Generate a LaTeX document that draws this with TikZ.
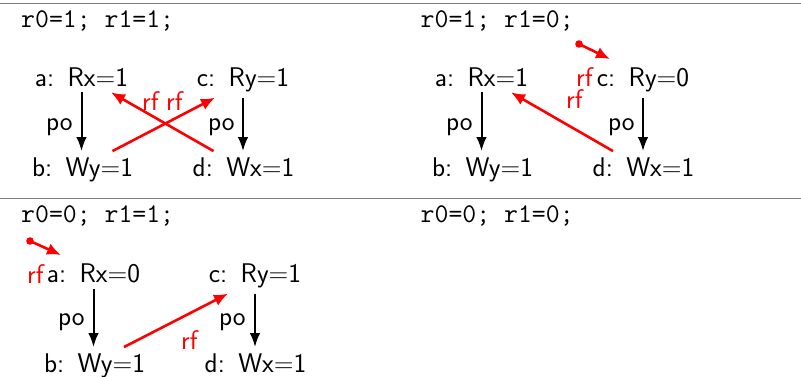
\documentclass[tikz,border=0pt]{standalone}
\usepackage{fontspec}
\usetikzlibrary{arrows.meta,calc}
\begin{document}
\begin{tikzpicture}[x=1pt,y=-1pt,
  ev/.style={font=\sffamily\fontsize{27}{32}\selectfont, inner sep=6pt, anchor=base},
  lbl/.style={font=\sffamily\fontsize{27}{32}\selectfont, inner sep=0pt, anchor=base west},
  rflbl/.style={lbl, text=red},
  hdr/.style={font=\ttfamily\fontsize{27}{32}\selectfont, inner sep=0pt, anchor=base west},
  poarrow/.style={draw=black, line width=2pt, -{Latex[length=14pt,width=10.5pt]}},
  rfarrow/.style={draw=red, line width=2.6pt, -{Latex[length=14pt,width=12pt]}},
  initdot/.style={fill=red, draw=none},
  rulestyle/.style={draw=gray, line width=1.5pt}]
\useasboundingbox (0,0) rectangle (801,376);
\draw[rulestyle] (0,3.5) -- (801,3.5);
\draw[rulestyle] (0,198.5) -- (801,198.5);

% ---- panel 1
\node[hdr] (h1) at (21,27) {r0=1; r1=1;};
\node[ev] (p1a) at (81.5,86) {a:\hspace{0.08em} Rx=1};
\node[ev] (p1c) at (243,86) {c:\hspace{0.08em} Ry=1};
\node[ev] (p1b) at (82.5,176) {b:\hspace{0.08em} Wy=1};
\node[ev] (p1d) at (243.5,176) {d:\hspace{0.08em} Wx=1};
\draw[poarrow] (p1a.south) -- (p1a.south |- p1b.north);
\draw[poarrow] (p1c.south) -- (p1c.south |- p1d.north);
\node[lbl] (p1po1) at (46,130) {po};
\node[lbl] (p1po2) at (208,130) {po};
\draw[rfarrow] ([xshift=30pt]p1b.north) -- ([xshift=-28pt]p1c.south);
\draw[rfarrow] ([xshift=-30pt]p1d.north) -- ([xshift=29.5pt]p1a.south);
\node[rflbl] (p1rf1) at (142,110) {rf};
\node[rflbl] (p1rf2) at (166,110) {rf};

% ---- panel 2
\node[hdr] (h2) at (420.5,27) {r0=1; r1=0;};
\node[ev] (p2a) at (481.5,86) {a:\hspace{0.08em} Rx=1};
\node[ev] (p2c) at (643,86) {c:\hspace{0.08em} Ry=0};
\node[ev] (p2b) at (482.5,176) {b:\hspace{0.08em} Wy=1};
\node[ev] (p2d) at (643.5,176) {d:\hspace{0.08em} Wx=1};
\draw[poarrow] (p2a.south) -- (p2a.south |- p2b.north);
\draw[poarrow] (p2c.south) -- (p2c.south |- p2d.north);
\node[lbl] (p2po1) at (446,130) {po};
\node[lbl] (p2po2) at (608,130) {po};
\draw[rfarrow] ([xshift=-30.5pt]p2d.north) -- ([xshift=29.5pt]p2a.south);
\node[rflbl] (p2rf1) at (566,108) {rf};
\coordinate (p2i) at (579,44);
\fill[initdot] (p2i) circle (3.8pt);
\draw[rfarrow] (p2i) -- (610,59);
\node[rflbl] (p2rf0) at (576,86) {rf};

% ---- panel 3
\node[hdr] (h3) at (21,222) {r0=0; r1=1;};
\node[ev] (p3a) at (93.5,282) {a:\hspace{0.08em} Rx=0};
\node[ev] (p3c) at (255,282) {c:\hspace{0.08em} Ry=1};
\node[ev] (p3b) at (94.5,372) {b:\hspace{0.08em} Wy=1};
\node[ev] (p3d) at (255.5,372) {d:\hspace{0.08em} Wx=1};
\draw[poarrow] (p3a.south) -- (p3a.south |- p3b.north);
\draw[poarrow] (p3c.south) -- (p3c.south |- p3d.north);
\node[lbl] (p3po1) at (58,325) {po};
\node[lbl] (p3po2) at (219,325) {po};
\draw[rfarrow] ([xshift=29.5pt]p3b.north) -- ([xshift=-27pt]p3c.south);
\node[rflbl] (p3rf1) at (181,349) {rf};
\coordinate (p3i) at (30,241);
\fill[initdot] (p3i) circle (3.8pt);
\draw[rfarrow] (p3i) -- (61,255);
\node[rflbl] (p3rf0) at (27,283) {rf};

% ---- panel 4
\node[hdr] (h4) at (420.5,222) {r0=0; r1=0;};
\end{tikzpicture}
\end{document}
